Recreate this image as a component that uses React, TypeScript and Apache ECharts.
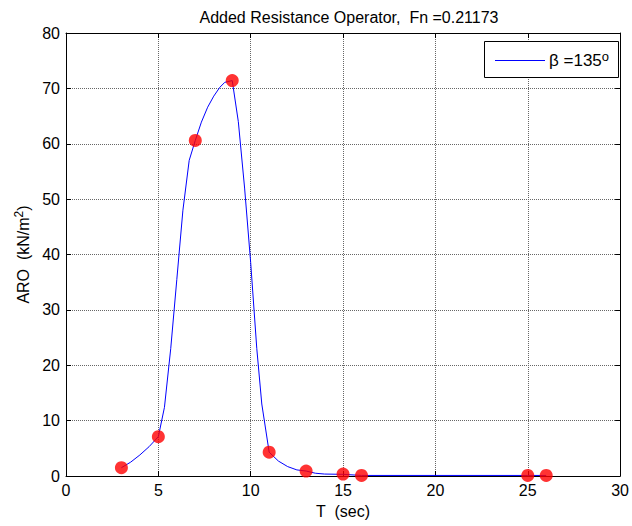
import React, { useEffect, useRef } from "react";
import * as echarts from "echarts";

// Data points (markers)
const periods = [3, 5, 7, 9, 11, 13, 15, 16, 25, 26];
const aroValues = [1.5, 7.1, 60.6, 71.4, 4.3, 0.9, 0.35, 0.1, 0.1, 0.1];

// Plotted curve vertices
const curveT = [3, 3.5, 4, 4.5, 5, 5.33, 5.67, 6, 6.33, 6.67, 7, 7.33, 7.67, 8, 8.33, 8.6, 9, 9.33, 9.67, 10, 10.33, 10.6, 11, 11.5, 12, 12.5, 13, 13.5, 14, 15, 16, 25, 26];
const curveARO = [1.5, 2.5, 3.8, 5.3, 7.1, 12.4, 23, 35.5, 48, 57, 60.6, 63.9, 66.6, 68.6, 70.2, 71.1, 71.4, 64, 52, 38.5, 23, 13, 4.3, 2.7, 1.7, 1.1, 0.9, 0.5, 0.35, 0.3, 0.1, 0.1, 0.1];

const xTicks = { min: 0, max: 30, interval: 5 };
const yTicks = { min: 0, max: 80, interval: 10 };

const titleText = "Added Resistance Operator,  Fn =0.21173";
const legendLabel = "β =135";

export default function App() {
  const ref = useRef<HTMLDivElement>(null);
  useEffect(() => {
    if (!ref.current) return;
    const chart = echarts.init(ref.current, null, { renderer: "svg" });
    const font = "Liberation Sans, Arial, Helvetica, sans-serif";
    const fs = 16;
    const gridLine = { show: true, lineStyle: { color: "#666", type: [1, 1] as any, width: 1 } };
    const curve = curveT.map((t, i) => [t, curveARO[i]]);
    const pts = periods.map((t, i) => [t, aroValues[i]]);
    chart.setOption({
      animation: false,
      backgroundColor: "#fff",
      title: {
        text: titleText,
        left: 344,
        textAlign: "center",
        top: 4,
        textStyle: { fontFamily: font, fontSize: fs, fontWeight: "normal", color: "#000" },
      },
      graphic: [
        {
          type: "rect",
          z: 100,
          shape: { x: 484.5, y: 41.5, width: 134, height: 36 },
          style: { fill: "#fff", stroke: "#000", lineWidth: 1 },
        },
        {
          type: "line",
          z: 101,
          shape: { x1: 495, y1: 60.5, x2: 545, y2: 60.5 },
          style: { stroke: "#0000ff", lineWidth: 1 },
        },
        {
          type: "text",
          z: 101,
          x: 549,
          y: 60,
          style: {
            text: legendLabel + "{sup|o}",
            fontFamily: font,
            fontSize: 17,
            fill: "#000",
            verticalAlign: "middle",
            rich: {
              sup: { fontFamily: font, fontSize: 13, verticalAlign: "top", padding: [0, 0, 8, 0], fill: "#000" },
            },
          },
        },
      ],
      grid: { left: 66, right: 8, top: 33, bottom: 50, containLabel: false },
      xAxis: [
        {
          type: "value",
          min: xTicks.min,
          max: xTicks.max,
          interval: xTicks.interval,
          position: "bottom",
          name: "T  (sec)",
          nameLocation: "middle",
          nameGap: 27,
          nameTextStyle: { fontFamily: font, fontSize: fs, color: "#000" },
          axisLine: { show: true, onZero: false, lineStyle: { color: "#000", width: 1 } },
          axisTick: { show: true, inside: true, length: 5, lineStyle: { color: "#000" } },
          axisLabel: { fontFamily: font, fontSize: fs, color: "#000", margin: 6 },
          splitLine: gridLine,
        },
        {
          type: "value",
          min: xTicks.min,
          max: xTicks.max,
          interval: xTicks.interval,
          position: "top",
          axisLine: { show: true, onZero: false, lineStyle: { color: "#000", width: 1 } },
          axisTick: { show: true, inside: true, length: 5, lineStyle: { color: "#000" } },
          axisLabel: { show: false },
          splitLine: { show: false },
        },
      ],
      yAxis: [
        {
          type: "value",
          min: yTicks.min,
          max: yTicks.max,
          interval: yTicks.interval,
          position: "left",
          name: "ARO  (kN/m{sup|2})",
          nameLocation: "middle",
          nameGap: 30,
          nameTextStyle: {
            fontFamily: font,
            fontSize: fs,
            color: "#000",
            rich: { sup: { fontFamily: font, fontSize: 12, verticalAlign: "top", padding: [0, 0, 8, 0], color: "#000" } },
          },
          axisLine: { show: true, onZero: false, lineStyle: { color: "#000", width: 1 } },
          axisTick: { show: true, inside: true, length: 5, lineStyle: { color: "#000" } },
          axisLabel: { fontFamily: font, fontSize: fs, color: "#000", margin: 6 },
          splitLine: gridLine,
        },
        {
          type: "value",
          min: yTicks.min,
          max: yTicks.max,
          interval: yTicks.interval,
          position: "right",
          axisLine: { show: true, onZero: false, lineStyle: { color: "#000", width: 1 } },
          axisTick: { show: true, inside: true, length: 5, lineStyle: { color: "#000" } },
          axisLabel: { show: false },
          splitLine: { show: false },
        },
      ],
      series: [
        {
          name: "beta",
          type: "line",
          xAxisIndex: 0,
          yAxisIndex: 0,
          data: curve,
          showSymbol: false,
          symbol: "none",
          lineStyle: { color: "#0000ff", width: 1 },
          itemStyle: { color: "#0000ff" },
          z: 3,
        },
        {
          name: "points",
          type: "scatter",
          xAxisIndex: 0,
          yAxisIndex: 0,
          data: pts,
          symbol: "circle",
          symbolSize: 13,
          itemStyle: { color: "#ff0000" },
          z: 4,
        },
      ],
    });
    return () => chart.dispose();
  }, []);
  return <div ref={ref} style={{ width: 632, height: 526, position: "absolute", left: 0, top: 0 }} />;
}
